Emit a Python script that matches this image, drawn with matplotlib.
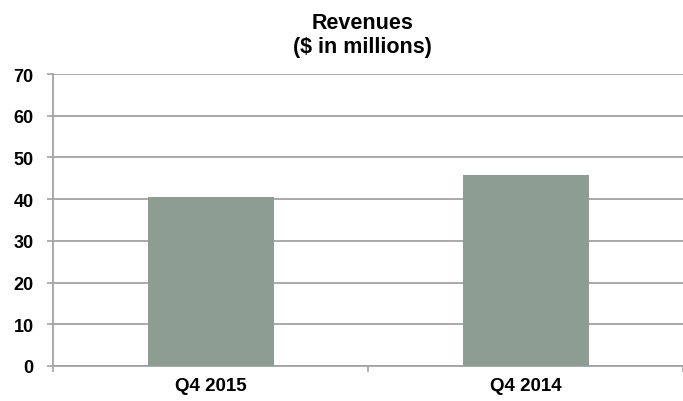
import matplotlib
matplotlib.use("Agg")
import matplotlib.pyplot as plt

quarters = ["Q4 2015", "Q4 2014"]
revenues = [40.6, 45.8]
y_ticks = [0, 10, 20, 30, 40, 50, 60, 70]

plt.rcParams['font.family'] = ['Liberation Sans', 'DejaVu Sans']
plt.rcParams['font.weight'] = 'bold'

fig = plt.figure(figsize=(6.83, 4.02), dpi=100)
ax = fig.add_axes([53 / 683, 35 / 402, 630 / 683, 292 / 402])

pos = list(range(len(quarters)))
ax.bar(pos, revenues, width=0.4, color='#8e9d91', zorder=3)

ax.set_xlim(-0.5, 1.481)
ax.set_ylim(0, 70)
ax.set_yticks(y_ticks)
ax.set_yticklabels([str(v) for v in y_ticks], fontsize=13, fontweight='bold')
ax.yaxis.grid(True, color='#a3a3a3', linewidth=1.3, zorder=0)

# category labels sit under the bars, tick marks go on the boundaries
ax.set_xticks([-0.5, 0.5, 1.5])
ax.set_xticklabels([])
for p, q in zip(pos, quarters):
    ax.text(p, -0.036, q, transform=ax.get_xaxis_transform(), ha='center', va='top',
            fontsize=13.5, fontweight='bold')

for side in ['top', 'right']:
    ax.spines[side].set_visible(False)
for side in ['left', 'bottom']:
    ax.spines[side].set_color('#a3a3a3')
    ax.spines[side].set_linewidth(1.3)
ax.tick_params(axis='both', color='#a3a3a3', length=4, width=1.2)
ax.tick_params(axis='y', pad=10)

fig.text(0.531, 0.967, "Revenues\n($ in millions)", ha='center', va='top',
         fontsize=15.5, fontweight='bold', linespacing=1.15)

fig.savefig('out.png', dpi=100)
